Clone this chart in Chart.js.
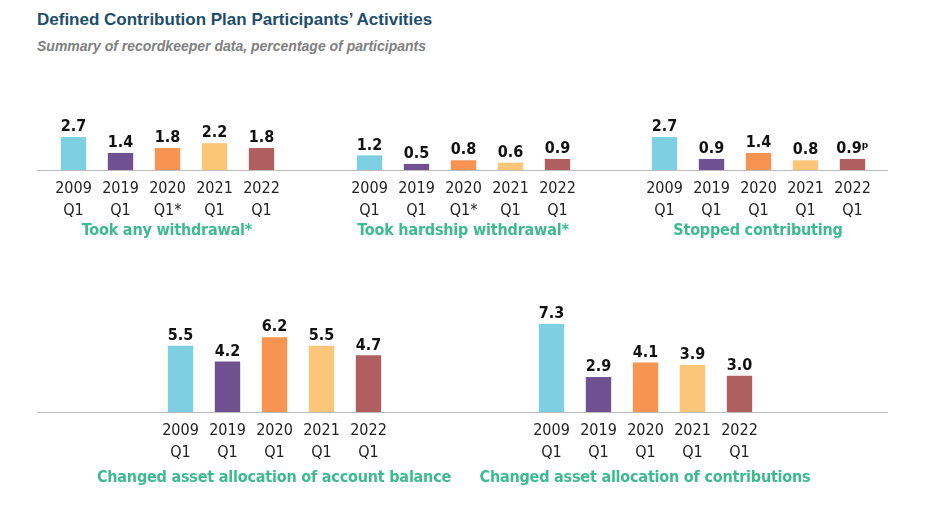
<!DOCTYPE html>
<html><head><meta charset="utf-8">
<script src="https://cdn.jsdelivr.net/npm/chart.js@4"></script>
<style>
body{margin:0;width:942px;height:514px;background:#fff;position:relative;overflow:hidden}
.t{position:absolute;left:37px;top:10px;font:bold 17px "Liberation Sans",Arial,sans-serif;color:#1d4e6b}
.s{position:absolute;left:37px;top:38px;font:italic bold 14px "Liberation Sans",Arial,sans-serif;color:#808080}
.ln{position:absolute;left:37px;width:851px;height:1px;background:#bbb}
.pt{position:absolute;text-align:center;color:#3dbb8f;font:bold 16px "DejaVu Sans Condensed","Liberation Sans",sans-serif;white-space:nowrap;letter-spacing:-0.2px}
canvas{position:absolute}
</style></head><body>
<div class="t">Defined Contribution Plan Participants’ Activities</div>
<div class="s">Summary of recordkeeper data, percentage of participants</div>
<div class="ln" style="top:170px"></div>
<div class="ln" style="top:412px"></div>
<script>
const FONT='"DejaVu Sans Condensed","Liberation Sans",sans-serif';
const colors=["#7fcfe3","#6f5090","#f79452","#fbc678","#b05f60"];
const labelsA=[["2009","Q1"],["2019","Q1"],["2020","Q1*"],["2021","Q1"],["2022","Q1"]];
const labelsB=[["2009","Q1"],["2019","Q1"],["2020","Q1"],["2021","Q1"],["2022","Q1"]];
const anyWithdrawal=[2.7,1.4,1.8,2.2,1.8];
const hardship=[1.2,0.5,0.8,0.6,0.9];
const stopped=[2.7,0.9,1.4,0.8,0.9];
const stoppedSuffix=["","","","","ᵖ"];
const acctBalance=[5.5,4.2,6.2,5.5,4.7];
const contributions=[7.3,2.9,4.1,3.9,3.0];
const titles=["Took any withdrawal*","Took hardship withdrawal*","Stopped contributing","Changed asset allocation of account balance","Changed asset allocation of contributions"];

const valPlugin={id:'vals',afterDatasetsDraw(c,a,o){const ctx=c.ctx;const m=c.getDatasetMeta(0);ctx.save();ctx.font='bold 16px '+FONT;ctx.fillStyle='#111';ctx.textAlign='center';ctx.textBaseline='bottom';
m.data.forEach((b,i)=>{const v=c.data.datasets[0].data[i];ctx.fillText(v.toFixed(1)+(o.suffix?o.suffix[i]:''),b.x,b.y-2);});ctx.restore();}};

function mk(left,top,w,base,h,ymax,labels,data,title,titleTop,suffix){
  const cv=document.createElement('canvas');cv.style.left=left+'px';cv.style.top=top+'px';cv.style.width=w+'px';cv.style.height=h+'px';cv.width=w;cv.height=h;document.body.appendChild(cv);
  const axisH=h-(base-top);
  new Chart(cv,{type:'bar',data:{labels:labels,datasets:[{data:data,backgroundColor:colors,barPercentage:0.54,categoryPercentage:1}]},
  options:{responsive:false,animation:false,layout:{padding:0},plugins:{legend:{display:false},tooltip:{enabled:false},vals:{suffix:suffix}},
  scales:{y:{display:false,min:0,max:ymax},x:{grid:{display:false},border:{display:false},ticks:{color:'#222',padding:0,maxRotation:0,font:{size:16,family:FONT,lineHeight:1.35}},afterFit(s){s.height=axisH}}}},plugins:[valPlugin]});
  const d=document.createElement('div');d.className='pt';d.textContent=title;d.style.left=(left-80)+'px';d.style.width=(w+160)+'px';d.style.top=titleTop+'px';document.body.appendChild(d);
}
// top row: baseline 170, ~12.2 px per unit
mk(49.5,100,235,170,130,70/12.2,labelsA,anyWithdrawal,titles[0],220);
mk(345.5,100,235,170,130,70/12.2,labelsA,hardship,titles[1],220);
mk(640.5,100,235,170,130,70/12.2,labelsB,stopped,titles[2],220,stoppedSuffix);
// bottom row: baseline 412
mk(156.5,300,235,412,172,112/12.05,labelsB,acctBalance,titles[3],467);
mk(527.5,300,235,412,172,112/12.05,labelsB,contributions,titles[4],467);
</script>
</body></html>
